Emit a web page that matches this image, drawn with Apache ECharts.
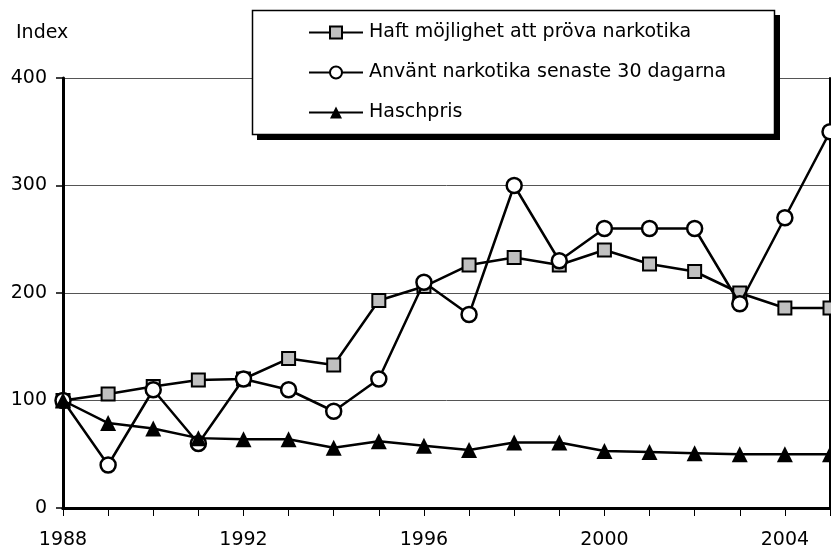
<!DOCTYPE html>
<html>
<head>
<meta charset="utf-8">
<script src="https://cdn.jsdelivr.net/npm/echarts@6/dist/echarts.min.js"></script>
<style>
	html, body {margin:0; padding:0; background:#fff;}
	#chart {width:831px; height:551px;}
</style>
</head>
<body>
<div id="chart"></div>
<script>
'use strict';

var years = ['1988','1989','1990','1991','1992','1993','1994','1995','1996','1997','1998','1999','2000','2001','2002','2003','2004','2005'];
var mojlighet = [100,106,113,119,120,139,133,193,206,226,233,226,240,227,220,200,186,186];
var anvant = [100,40,110,60,120,110,90,120,210,180,300,230,260,260,260,190,270,350];
var haschpris = [100,79,74,65,64,64,56,62,58,54,61,61,53,52,51,50,50,50];
var yTicks = [0,100,200,300,400];

var names = ['Haft möjlighet att pröva narkotika','Använt narkotika senaste 30 dagarna','Haschpris'];
var font = 'DejaVu Sans, Arial, Helvetica, sans-serif';

var option = {
	animation:false,
	title : {
		text: 'Index',
		left: 16,
		top: 24,
		padding: 0,
		textStyle : {
			fontSize: 19,
			color: '#000',
			fontWeight : 'normal',
			fontFamily: font
		}
	},
	// legend box + hard shadow
	graphic: [
		{
			type: 'rect',
			z: 10,
			shape: {x: 257, y: 15, width: 523, height: 125},
			style: {fill: '#000'}
		},
		{
			type: 'rect',
			z: 11,
			shape: {x: 252.5, y: 10.5, width: 522, height: 124},
			style: {fill: '#fff', stroke: '#000', lineWidth: 1.5}
		}
	],
	legend : {
		orient: 'vertical',
		left: 308,
		top: 23,
		data: names,
		itemWidth: 54,
		itemHeight: 15,
		itemGap: 21,
		padding: 0,
		textStyle: {fontSize: 19, color:'#000', fontFamily: font, padding:[0,0,0,1]},
		z: 20
	},
	grid : {left: 63, right: 1, top: 78, bottom: 43},
	xAxis : [
		{
			type : 'category',
			boundaryGap : false,
			data : years,
			axisLine: {lineStyle: {color:'#000', width: 3}},
			axisTick: {show:true, interval: 0, length: 8, lineStyle:{color:'#000', width:1}},
			axisLabel: {interval: 3, margin: 23, fontSize: 19, color:'#000', fontFamily: font},
			splitLine: {show:false}
		},
		{
			type : 'category',
			position: 'top',
			boundaryGap : false,
			data : years,
			axisLine: {lineStyle: {color:'#000', width: 3}},
			axisTick: {show:false},
			axisLabel: {show:false},
			splitLine: {show:false}
		}
	],
	yAxis : [
		{
			type : 'value',
			min: yTicks[0],
			max: yTicks[yTicks.length-1],
			interval: 100,
			axisLine: {show:true, lineStyle: {color:'#000', width: 3}},
			axisTick: {show:true, length: 7, lineStyle:{color:'#000', width:1.5}},
			axisLabel: {margin: 16, fontSize: 19, color:'#000', fontFamily: font},
			splitLine: {show:true, lineStyle:{color:'#555', width:1}}
		},
		{
			type : 'value',
			position: 'right',
			min: yTicks[0],
			max: yTicks[yTicks.length-1],
			interval: 100,
			axisLine: {show:true, lineStyle: {color:'#000', width: 2}},
			axisTick: {show:false},
			axisLabel: {show:false},
			splitLine: {show:false}
		}
	],
	series : [
		{
			name: names[0],
			type:'line',
			symbol: 'rect',
			symbolSize: 13,
			data: mojlighet,
			lineStyle: {color:'#000', width:2.5},
			itemStyle: {color:'#c0c0c0', borderColor:'#000', borderWidth:2},
			z: 3
		},
		{
			name: names[1],
			type:'line',
			symbol: 'circle',
			symbolSize: 15,
			data: anvant,
			lineStyle: {color:'#000', width:2.5},
			itemStyle: {color:'#fff', borderColor:'#000', borderWidth:2.5},
			z: 4
		},
		{
			name: names[2],
			type:'line',
			symbol: 'triangle',
			symbolSize: 16,
			data: haschpris,
			lineStyle: {color:'#000', width:2.5},
			itemStyle: {color:'#000', borderColor:'#000', borderWidth:0},
			z: 5
		}
	]
};

try{
	var myChart = echarts.init(document.getElementById('chart'));
	myChart.setOption(option);
}
catch(e){
	console.log(e);
}
</script>
</body>
</html>
